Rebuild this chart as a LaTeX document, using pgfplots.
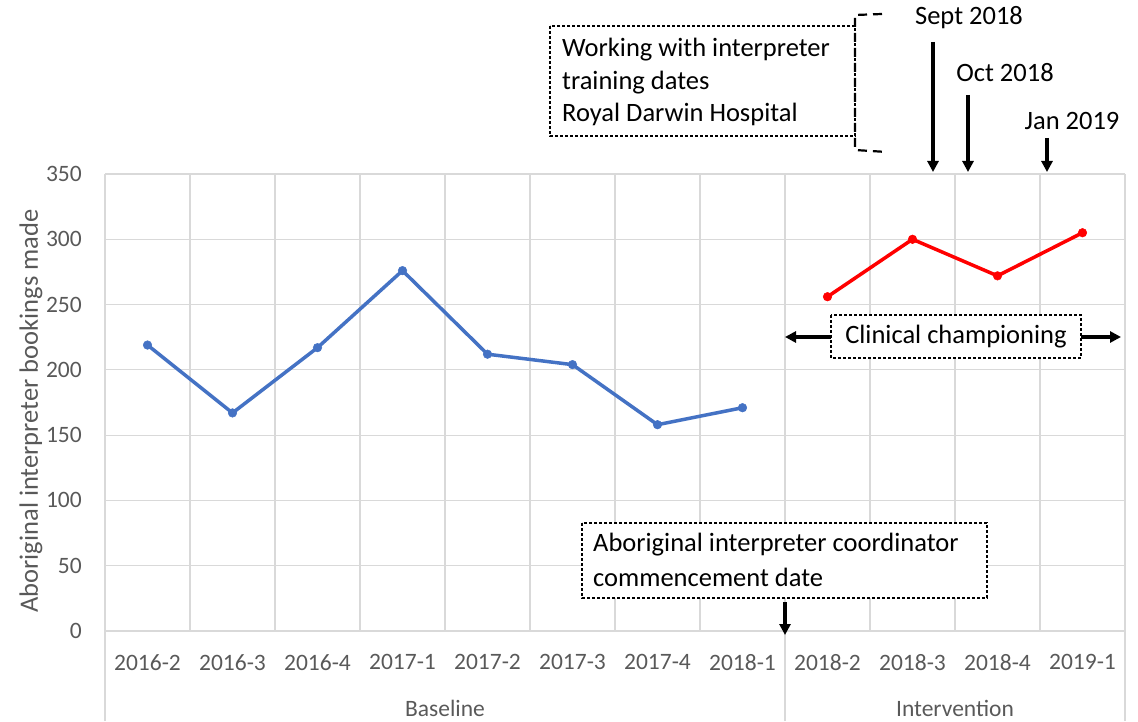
\documentclass[border=0pt]{standalone}
\usepackage{pgfplots}
\pgfplotsset{compat=1.18}
\usepackage{fontspec}
\setmainfont{Carlito}
\usetikzlibrary{arrows.meta}
\definecolor{tickgray}{HTML}{595959}
\definecolor{gridgray}{HTML}{D9D9D9}
\definecolor{xlblue}{HTML}{4472C4}
\definecolor{xlred}{HTML}{FF0000}
\begin{document}
\begin{tikzpicture}[x=1pt,y=1pt]
\useasboundingbox (0,0) rectangle (1138,721);
\begin{axis}[
  at={(105pt,90pt)}, anchor=south west, scale only axis,
  width=1020pt, height=457pt,
  xmin=-0.5, xmax=11.5, ymin=0, ymax=350,
  ytick={0,50,...,350},
  xtick={0,...,11},
  xticklabels={2016-2,2016-3,2016-4,2017-1,2017-2,2017-3,2017-4,2018-1,2018-2,2018-3,2018-4,2019-1},
  minor xtick={-0.5,0.5,...,11.5},
  xminorgrids, ymajorgrids,
  grid style={gridgray, line width=1.2pt},
  minor grid style={gridgray, line width=1.2pt},
  axis line style={draw=none},
  major tick length=0pt, minor tick length=0pt,
  tick label style={font=\fontsize{23.5}{28}\selectfont, text=tickgray},
  /pgf/number format/assume math mode=true,
  yticklabel style={inner sep=0pt, xshift=-23pt},
  xticklabel style={inner sep=0pt, yshift=-23pt},
  clip=false,
]
\addplot[xlblue, line width=3.5pt, mark=*, mark size=4.3pt, mark options={solid, fill=xlblue, draw=xlblue, line width=0.5pt}]
  coordinates {(0,219)(1,167)(2,217)(3,276)(4,212)(5,204)(6,158)(7,171)};
\addplot[xlred, line width=3.5pt, mark=*, mark size=4.3pt, mark options={solid, fill=xlred, draw=xlred, line width=0.5pt}]
  coordinates {(8,256)(9,300)(10,272)(11,305)};
\end{axis}
% category-axis separators
\draw[gridgray, line width=1.2pt] (105,0) -- (105,90);
\draw[gridgray, line width=1.2pt] (785,0) -- (785,90);
\draw[gridgray, line width=1.2pt] (1125,0) -- (1125,90);
\node[text=tickgray, font=\fontsize{23.5}{28}\selectfont] at (445,13) {Baseline};
\node[text=tickgray, font=\fontsize{23.5}{28}\selectfont] at (955,13) {Intervention};
% y label
\node[rotate=90, text=tickgray, font=\fontsize{26.5}{30}\selectfont] at (31,310) {Aboriginal interpreter bookings made};
% annotations
\tikzset{ann/.style={font=\fontsize{26.5}{31}\selectfont, text=black},
  dbox/.style={draw=black, line width=1.2pt, dash pattern=on 3pt off 2pt},
  arr/.style={line width=3.5pt, -{Triangle[length=11pt,width=11pt]}}}
% working box
\draw[dbox] (550,695) rectangle (855,585);
\node[ann, anchor=west, inner sep=0pt] at (562,671) {Working with interpreter};
\node[ann, anchor=west, inner sep=0pt] at (562,638) {training dates};
\node[ann, anchor=west, inner sep=0pt] at (562,607) {Royal Darwin Hospital};
\draw[line width=2.2pt, dash pattern=on 9pt off 6pt] (882,707) -- (855,706) -- (855,571) -- (887,569);
% months
\node[ann] at (969,703) {Sept 2018};
\draw[arr] (933,679) -- (933,549);
\node[ann] at (1005,648) {Oct 2018};
\draw[arr] (968,626) -- (968,549);
\node[ann] at (1072,600) {Jan 2019};
\draw[arr] (1047,583) -- (1047,549);
% clinical championing
\draw[dbox, fill=white] (831,406) rectangle (1081,363);
\node[ann] at (956,384) {Clinical championing};
\draw[arr] (831,384) -- (785,384);
\draw[arr] (1081,384) -- (1121,384);
% coordinator
\draw[dbox, fill=white] (582,198) rectangle (987,123);
\node[ann, anchor=west, inner sep=0pt] at (593,176) {Aboriginal interpreter coordinator};
\node[ann, anchor=west, inner sep=0pt] at (593,144) {commencement date};
\draw[arr] (785,119) -- (785,86);
\end{tikzpicture}
\end{document}
